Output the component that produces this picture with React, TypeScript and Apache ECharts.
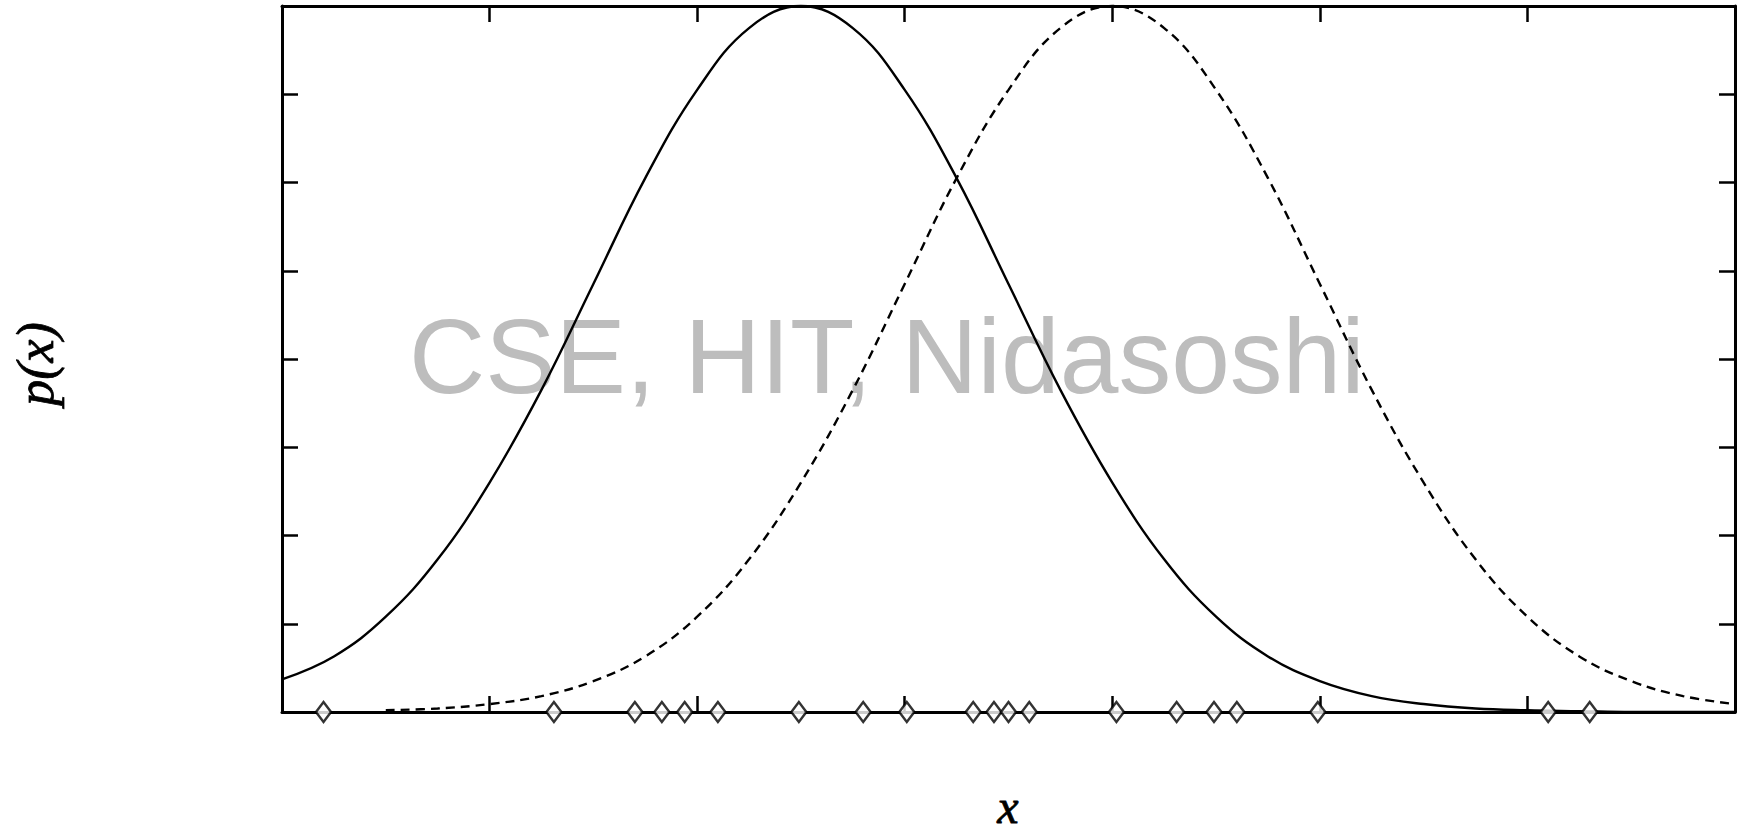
import React, { useEffect, useRef } from "react";
import * as echarts from "echarts";

// x positions at which the curves were read (axis units, 0..7)
const xs = [0, 0.25, 0.5, 0.75, 1, 1.25, 1.5, 1.75, 2, 2.25, 2.5, 2.75, 3, 3.25, 3.5, 3.75, 4, 4.25, 4.5, 4.75, 5, 5.25, 5.5, 5.75, 6, 6.25, 6.5, 6.75, 7];
// solid curve p(x) (class 1)
const solidCurve = [0.37, 0.63, 1.08, 1.73, 2.6, 3.65, 4.85, 6.05, 7.05, 7.75, 8.0, 7.75, 7.05, 6.05, 4.85, 3.65, 2.6, 1.73, 1.08, 0.63, 0.35, 0.18, 0.09, 0.04, 0.02, 0.01, 0, 0, 0];
// dashed curve p(x) (class 2)
const dashedCurve = [null, null, 0.02, 0.04, 0.09, 0.18, 0.35, 0.63, 1.08, 1.73, 2.6, 3.65, 4.85, 6.05, 7.05, 7.75, 8.0, 7.75, 7.05, 6.05, 4.85, 3.65, 2.6, 1.73, 1.08, 0.63, 0.35, 0.18, 0.09];
// sample points (diamonds on the x axis)
const samplePoints = [0.2, 1.31, 1.7, 1.83, 1.94, 2.1, 2.49, 2.8, 3.01, 3.33, 3.43, 3.5, 3.6, 4.02, 4.31, 4.49, 4.6, 4.99, 6.1, 6.3];

const xLabel = "x";
const yLabel = "p(x)";
const watermark = "CSE, HIT, Nidasoshi";

export default function App() {
  const ref = useRef<HTMLDivElement>(null);
  useEffect(() => {
    if (!ref.current) return;
    const chart = echarts.init(ref.current, null, { renderer: "svg" });
    const axisCommon = {
      type: "value" as const,
      axisLine: { show: true, onZero: false, lineStyle: { color: "#000", width: 3 } },
      axisTick: { show: true, inside: true, length: 16, lineStyle: { color: "#000", width: 2.5 } },
      axisLabel: { show: false },
      splitLine: { show: false },
    };
    chart.setOption({
      animation: false,
      backgroundColor: "#fff",
      grid: { left: 282, top: 6, right: 15, bottom: 124, containLabel: false },
      xAxis: [
        { ...axisCommon, position: "bottom", min: 0, max: 7, interval: 1 },
        { ...axisCommon, position: "top", min: 0, max: 7, interval: 1 },
      ],
      yAxis: [
        { ...axisCommon, position: "left", min: 0, max: 8, interval: 1 },
        { ...axisCommon, position: "right", min: 0, max: 8, interval: 1 },
      ],
      graphic: [
        {
          type: "text",
          z: -10,
          left: 409,
          top: 303,
          style: {
            text: watermark,
            fill: "#bdbdbd",
            font: "105.5px 'Liberation Sans', Arial, sans-serif",
          },
        },
        {
          type: "text",
          x: 35,
          y: 364,
          rotation: Math.PI / 2,
          style: {
            text: yLabel,
            fill: "#000",
            font: "italic 52px 'Liberation Serif', 'Times New Roman', serif",
            align: "center",
            verticalAlign: "middle",
            stroke: "#000",
            lineWidth: 0.8,
          },
        },
        {
          type: "text",
          x: 1008,
          y: 806,
          style: {
            text: xLabel,
            fill: "#000",
            font: "italic 48px 'Liberation Serif', 'Times New Roman', serif",
            align: "center",
            verticalAlign: "middle",
            stroke: "#000",
            lineWidth: 0.8,
          },
        },
      ],
      series: [
        {
          type: "line",
          z: 3,
          data: xs.map((x, i) => [x, solidCurve[i]]),
          smooth: 0.4,
          showSymbol: false,
          clip: false,
          lineStyle: { color: "#000", width: 2.4 },
        },
        {
          type: "line",
          z: 3,
          data: xs.map((x, i) => [x, dashedCurve[i]]),
          smooth: 0.4,
          showSymbol: false,
          connectNulls: false,
          clip: false,
          lineStyle: { color: "#000", width: 2.4, type: [9, 6] },
        },
        {
          type: "scatter",
          z: 4,
          data: samplePoints.map((x) => [x, 0]),
          symbol: "diamond",
          symbolSize: [15, 20],
          clip: false,
          itemStyle: { color: "#fff", borderColor: "#000", borderWidth: 2.5 },
        },
      ],
    });
    return () => chart.dispose();
  }, []);
  return (
    <div
      ref={ref}
      style={{ position: "fixed", left: 0, top: 0, width: 1750, height: 836, background: "#fff" }}
    />
  );
}
